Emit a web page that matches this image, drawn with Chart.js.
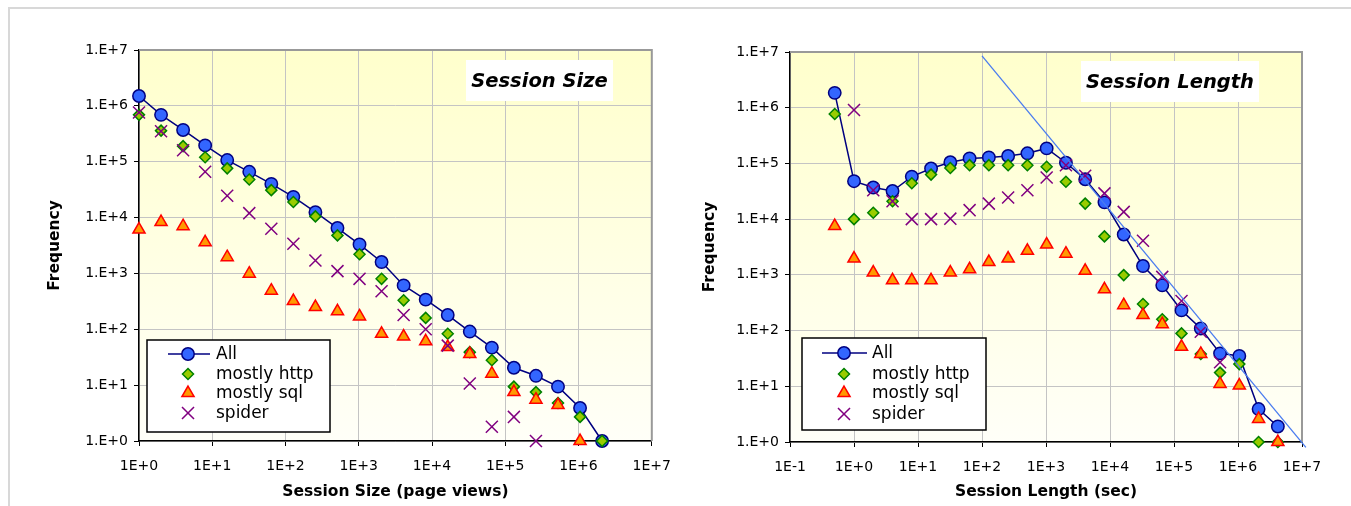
<!DOCTYPE html>
<html>
<head>
<meta charset="utf-8">
<title>Session Size / Session Length</title>
<script src="https://cdn.jsdelivr.net/npm/chart.js"></script>
<style>
    body { margin: 0; background: #fff; }
    #page { position: relative; width: 1351px; height: 506px; overflow: hidden; }
    #frame { position: absolute; left: 8px; top: 7px; right: 0; bottom: 0; border-top: 2px solid #d8d8d8; border-left: 2px solid #d8d8d8; }
    canvas { position: absolute; top: 0; }
    #size-chart { left: 0; }
    #length-chart { left: 676px; }
</style>
</head>
<body>
<div id="page">
    <div id="frame"></div>
    <canvas id="size-chart" width="676" height="506"></canvas>
    <canvas id="length-chart" width="675" height="506"></canvas>
</div>
<script>
// ---- data ----
const seriesNames = ['All', 'mostly http', 'mostly sql', 'spider']

const freqTicks = [1, 10, 100, 1e3, 1e4, 1e5, 1e6, 1e7]
const freqLabels = ['1.E+0', '1.E+1', '1.E+2', '1.E+3', '1.E+4', '1.E+5', '1.E+6', '1.E+7']

// Session size (page views)
const sizeTicks = [1, 10, 100, 1e3, 1e4, 1e5, 1e6, 1e7]
const sizeLabels = ['1E+0', '1E+1', '1E+2', '1E+3', '1E+4', '1E+5', '1E+6', '1E+7']
const sizeX = [1, 2, 4, 8, 16, 32, 64, 128, 256, 512, 1024, 2048, 4096, 8192, 16384, 32768, 65536, 131072, 262144, 524288, 1048576, 2097152]
const sizeAll = [1.5e6, 6.9e5, 3.7e5, 1.96e5, 1.07e5, 6.6e4, 4.0e4, 2.35e4, 1.25e4, 6.5e3, 3.3e3, 1.6e3, 610, 340, 180, 91, 47, 20.5, 14.7, 9.4, 3.9, 1]
const sizeHttp = [6.9e5, 3.6e5, 1.9e5, 1.2e5, 7.6e4, 4.8e4, 3.1e4, 1.9e4, 1.05e4, 4.8e3, 2.2e3, 800, 330, 160, 83, 39, 28, 9.4, 7.5, 4.8, 2.7, 1]
const sizeSql = [6.1e3, 8.3e3, 7.0e3, 3.6e3, 1.95e3, 990, 490, 320, 250, 210, 170, 83, 74, 61, 48, 36, 16, 7.5, 5.5, 4.4, 1]
const sizeSpider = [7.6e5, 3.5e5, 1.6e5, 6.6e4, 2.45e4, 1.2e4, 6.3e3, 3.4e3, 1.7e3, 1.1e3, 800, 480, 180, 100, 51, 10.7, 1.8, 2.7, 1]

// Session length (sec)
const lenTicks = [0.1, 1, 10, 100, 1e3, 1e4, 1e5, 1e6, 1e7]
const lenLabels = ['1E-1', '1E+0', '1E+1', '1E+2', '1E+3', '1E+4', '1E+5', '1E+6', '1E+7']
const lenX = [0.5, 1, 2, 4, 8, 16, 32, 64, 128, 256, 512, 1024, 2048, 4096, 8192, 16384, 32768, 65536, 131072, 262144, 524288, 1048576, 2097152, 4194304]
const lenAll = [1.85e6, 4.8e4, 3.7e4, 3.2e4, 5.8e4, 8.1e4, 1.05e5, 1.23e5, 1.28e5, 1.36e5, 1.52e5, 1.86e5, 1.03e5, 5.2e4, 2.0e4, 5.3e3, 1.44e3, 650, 230, 109, 39, 35, 3.9, 1.9]
const lenHttp = [7.7e5, 1.0e4, 1.3e4, 2.1e4, 4.4e4, 6.3e4, 8.3e4, 9.3e4, 9.3e4, 9.3e4, 9.3e4, 8.7e4, 4.7e4, 1.9e4, 4.9e3, 990, 300, 160, 89, 38, 17.6, 25, 1, 1]
const lenSql = [7.5e3, 1.96e3, 1.1e3, 800, 800, 800, 1.1e3, 1.26e3, 1.7e3, 1.96e3, 2.7e3, 3.5e3, 2.4e3, 1.18e3, 550, 285, 190, 130, 51, 38, 11, 10.3, 2.6, 1]
const lenSpiderX = [1, 2, 4, 8, 16, 32, 64, 128, 256, 512, 1024, 2048, 4096, 8192, 16384, 32768, 65536, 131072, 262144, 524288]
const lenSpider = [9.1e5, 3.3e4, 2.1e4, 1.0e4, 1.0e4, 1.02e4, 1.45e4, 1.9e4, 2.45e4, 3.3e4, 5.6e4, 9.3e4, 6.0e4, 2.9e4, 1.35e4, 4.1e3, 920, 340, 95, 27]
// power-law guide line on the length chart
const lenFitX = [100, 1.15e7]
const lenFitY = [8.5e6, 0.8]

// ---- styles ----
Chart.defaults.font.family = '"DejaVu Sans", sans-serif'
Chart.defaults.color = '#000'

const markers = {
    'All': { pointStyle: 'circle', pointRadius: 6.2, pointBackgroundColor: '#3366ff', pointBorderColor: '#000080', pointBorderWidth: 1.5, borderColor: '#000080', borderWidth: 1.5, showLine: true, order: 5 },
    'mostly http': { pointStyle: 'rectRot', pointRadius: 5.5, pointBackgroundColor: '#99cc00', pointBorderColor: '#008000', pointBorderWidth: 1.5, order: 4 },
    'mostly sql': { pointStyle: 'triangle', pointRadius: 7, pointBackgroundColor: '#ff9900', pointBorderColor: '#ff0000', pointBorderWidth: 1.5, order: 3 },
    'spider': { pointStyle: 'crossRot', pointRadius: 8.5, pointBackgroundColor: '#800080', pointBorderColor: '#800080', pointBorderWidth: 1.5, order: 2 }
}

const pairs = (xs, ys) => ys.map((y, i) => ({ x: xs[i], y: y }))

function series(name, xs, ys) {
    return Object.assign({ label: name, data: pairs(xs, ys), clip: false, pointHoverRadius: 0 }, markers[name])
}

const plotBackground = {
    id: 'plotBackground',
    beforeDraw(chart) {
        const { ctx, chartArea: a } = chart
        const g = ctx.createLinearGradient(0, a.top, 0, a.bottom)
        g.addColorStop(0, '#ffffcc')
        g.addColorStop(1, '#fffff8')
        ctx.save()
        ctx.fillStyle = g
        ctx.fillRect(a.left, a.top, a.right - a.left, a.bottom - a.top)
        ctx.restore()
    },
    beforeDatasetsDraw(chart) {
        // grey plot frame on top and right
        const { ctx, chartArea: a } = chart
        ctx.save()
        ctx.strokeStyle = '#999'
        ctx.lineWidth = 2
        ctx.beginPath()
        ctx.moveTo(a.left, a.top)
        ctx.lineTo(a.right, a.top)
        ctx.lineTo(a.right, a.bottom)
        ctx.stroke()
        ctx.restore()
    }
}

function drawMarker(ctx, ds, x, y) {
    ctx.fillStyle = ds.pointBackgroundColor
    ctx.strokeStyle = ds.pointBorderColor
    ctx.lineWidth = ds.pointBorderWidth
    Chart.helpers.drawPoint(ctx, { pointStyle: ds.pointStyle, radius: ds.pointRadius, rotation: 0, borderWidth: ds.pointBorderWidth }, x, y)
}

const boxes = {
    id: 'boxes',
    afterDraw(chart, args, opts) {
        const ctx = chart.ctx
        const t = opts.title
        ctx.save()
        ctx.fillStyle = '#fff'
        ctx.fillRect(t.x, t.y, t.w, t.h)
        ctx.fillStyle = '#000'
        ctx.font = 'italic bold 19.5px "DejaVu Sans"'
        ctx.textAlign = 'center'
        ctx.textBaseline = 'middle'
        ctx.fillText(t.text, t.x + t.w / 2, t.y + t.h / 2 + 1)

        const l = opts.legend
        ctx.fillStyle = '#fff'
        ctx.fillRect(l.x, l.y, l.w, l.h)
        ctx.strokeStyle = '#000'
        ctx.lineWidth = 1.5
        ctx.strokeRect(l.x, l.y, l.w, l.h)
        ctx.font = '17px "DejaVu Sans"'
        ctx.textAlign = 'left'
        const items = chart.data.datasets.filter(d => seriesNames.includes(d.label))
        items.forEach((ds, i) => {
            const y = l.rows[i]
            if (ds.showLine) {
                ctx.strokeStyle = ds.borderColor
                ctx.lineWidth = ds.borderWidth
                ctx.beginPath()
                ctx.moveTo(l.lineX0, y)
                ctx.lineTo(l.lineX1, y)
                ctx.stroke()
            }
            drawMarker(ctx, ds, l.markerX, y)
            ctx.fillStyle = '#000'
            ctx.fillText(ds.label, l.textX, y + 1)
        })
        ctx.restore()
    }
}

function logAxis(min, max, ticks, labels, title, fit, tickFont, pad) {
    return {
        type: 'logarithmic',
        min: min,
        max: max,
        afterBuildTicks: s => { s.ticks = ticks.map(v => ({ value: v })) },
        afterFit: fit,
        ticks: {
            callback: (v, i) => labels[i],
            font: tickFont,
            color: '#000',
            padding: pad,
            autoSkip: false,
            maxRotation: 0
        },
        grid: { color: '#c4c4c4', lineWidth: 1, tickColor: '#000', tickLength: 5 },
        border: { color: '#000', width: 1.5 },
        title: title
    }
}

function makeChart(id, d) {
    return new Chart(document.getElementById(id), {
        type: 'scatter',
        data: { datasets: d.datasets },
        plugins: [plotBackground, boxes],
        options: {
            responsive: false,
            animation: false,
            devicePixelRatio: 1,
            layout: { padding: d.padding },
            plugins: {
                legend: { display: false },
                tooltip: { enabled: false },
                boxes: { title: d.titleBox, legend: d.legendBox }
            },
            scales: {
                x: logAxis(d.xTicks[0], d.xTicks[d.xTicks.length - 1], d.xTicks, d.xLabels,
                    { display: true, text: d.xTitle, font: { size: 15.5, weight: 'bold' }, color: '#000', padding: { top: 0, bottom: 5 } },
                    s => { s.height = d.xHeight }, { size: 14, lineHeight: 2.14 }, 5),
                y: logAxis(1, 1e7, freqTicks, freqLabels,
                    { display: true, text: 'Frequency', font: { size: 15.5, weight: 'bold' }, color: '#000', padding: { top: d.yTitlePad, bottom: 0 } },
                    s => { s.width = d.yWidth }, { size: 14 }, 6)
            }
        }
    })
}

makeChart('size-chart', {
    datasets: [
        series('All', sizeX, sizeAll),
        series('mostly http', sizeX, sizeHttp),
        series('mostly sql', sizeX, sizeSql),
        series('spider', sizeX, sizeSpider)
    ],
    xTicks: sizeTicks,
    xLabels: sizeLabels,
    xTitle: 'Session Size (page views)',
    padding: { left: 0, top: 50, right: 24, bottom: 0 },
    xHeight: 65,
    yWidth: 139,
    yTitlePad: 46,
    titleBox: { text: 'Session Size', x: 466, y: 60, w: 147, h: 41 },
    legendBox: { x: 147, y: 340, w: 183, h: 92, markerX: 188, lineX0: 168, lineX1: 210, textX: 216, rows: [354, 374, 393, 413] }
})

makeChart('length-chart', {
    datasets: [
        series('All', lenX, lenAll),
        series('mostly http', lenX, lenHttp),
        series('mostly sql', lenX, lenSql),
        series('spider', lenSpiderX, lenSpider),
        { label: 'fit', data: pairs(lenFitX, lenFitY), showLine: true, pointRadius: 0, borderColor: '#4a7cf0', borderWidth: 1.3, clip: false, order: 1 }
    ],
    xTicks: lenTicks,
    xLabels: lenLabels,
    xTitle: 'Session Length (sec)',
    padding: { left: 0, top: 52, right: 49, bottom: 0 },
    xHeight: 64,
    yWidth: 114,
    yTitlePad: 25,
    titleBox: { text: 'Session Length', x: 405, y: 61, w: 178, h: 41 },
    legendBox: { x: 126, y: 338, w: 184, h: 92, markerX: 168, lineX0: 146, lineX1: 191, textX: 196, rows: [353, 374, 393, 414] }
})
</script>
</body>
</html>
